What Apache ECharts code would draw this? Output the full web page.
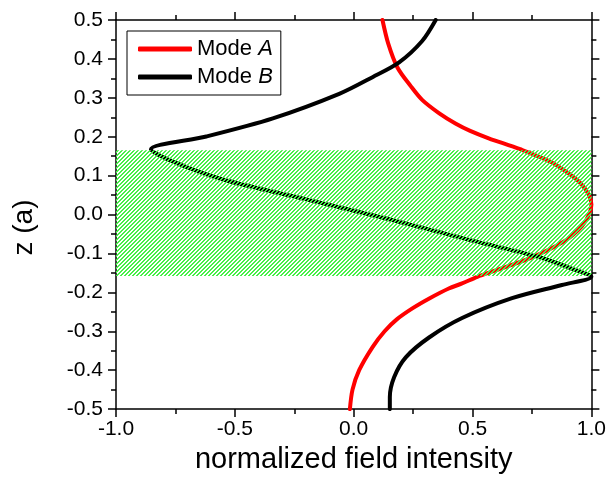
<!DOCTYPE html>
<html><head><meta charset="utf-8">
<script src="https://cdn.jsdelivr.net/npm/echarts@6/dist/echarts.min.js"></script>
<style>html,body{margin:0;padding:0;background:#fff}#c{width:609px;height:479px}</style>
</head><body><div id="c"></div><script>
// Mode A: z positions and normalized field intensity
const modeAZ = [-0.50,-0.45,-0.40,-0.34,-0.30,-0.27,-0.24,-0.215,-0.19,-0.177,-0.16,-0.143,-0.11,-0.067,-0.03,0.0,0.026,0.05,0.08,0.10,0.135,0.168,0.196,0.215,0.234,0.26,0.294,0.33,0.378,0.44,0.50];
const modeAX = [-0.016,-0.005,0.023,0.08,0.13,0.18,0.25,0.32,0.40,0.456,0.52,0.60,0.75,0.89,0.96,0.99,1.0,0.99,0.955,0.917,0.83,0.70,0.568,0.49,0.428,0.36,0.289,0.24,0.184,0.145,0.121];
// Mode B
const modeBZ = [-0.50,-0.469,-0.418,-0.367,-0.316,-0.266,-0.215,-0.181,-0.16,-0.139,-0.109,-0.067,-0.012,0.039,0.09,0.136,0.168,0.2005,0.247,0.31,0.353,0.391,0.446,0.50];
const modeBX = [0.152,0.152,0.170,0.219,0.317,0.456,0.666,0.876,1.0,0.917,0.778,0.498,0.149,-0.200,-0.55,-0.76,-0.853,-0.62,-0.34,-0.061,0.079,0.191,0.288,0.345];
// hatched slab region (z range)
const slabRange = [-0.158, 0.165];
const xRange = [-1.0, 1.0];
const zRange = [-0.5, 0.5];

const tile = document.createElement('canvas');
tile.width = 4; tile.height = 4;
const g = tile.getContext('2d');
g.fillStyle = '#48f048';
for (let y = 0; y < 4; y++) {
  g.fillRect((3 - y + 4) % 4, y, 1, 1);
  g.fillRect((4 - y) % 4, y, 1, 1);
}

const fmt = v => (Math.abs(v) < 1e-9 ? 0 : v).toFixed(1);
const font = 'Liberation Sans, Arial, sans-serif';
const axisBase = {
  axisLine: {show: true, onZero: false, lineStyle: {color: '#000', width: 1.5}},
  axisTick: {show: true, inside: false, length: 8, lineStyle: {color: '#000', width: 1.5}},
  minorTick: {show: true, splitNumber: 2, length: 5, lineStyle: {color: '#000', width: 1.5}},
  splitLine: {show: false}, minorSplitLine: {show: false}
};

const chart = echarts.init(document.getElementById('c'));
chart.setOption({
  animation: false,
  backgroundColor: '#fff',
  grid: {left: 116, right: 16, top: 20, bottom: 65},
  legend: {
    left: 127, top: 31, orient: 'vertical',
    data: ['Mode A', 'Mode B'],
    itemWidth: 54, itemHeight: 5, itemGap: 6, icon: 'roundRect',
    padding: [7, 8, 7, 11],
    borderColor: '#000', borderWidth: 1,
    formatter: n => 'Mode {i|' + n.slice(5) + '}',
    textStyle: {fontFamily: font, fontSize: 22, color: '#000',
      rich: {i: {fontFamily: font, fontSize: 22, fontStyle: 'italic', color: '#000'}}}
  },
  xAxis: [
    Object.assign({}, axisBase, {type: 'value', min: xRange[0], max: xRange[1], interval: 0.5, position: 'bottom',
      name: 'normalized field intensity', nameLocation: 'middle', nameGap: 35,
      nameTextStyle: {fontFamily: font, fontSize: 29, color: '#000'},
      axisLabel: {formatter: fmt, fontFamily: font, fontSize: 21, color: '#000', margin: 10}}),
    Object.assign({}, axisBase, {type: 'value', min: xRange[0], max: xRange[1], interval: 0.5, position: 'top',
      axisLabel: {show: false}})
  ],
  yAxis: [
    Object.assign({}, axisBase, {type: 'value', min: zRange[0], max: zRange[1], interval: 0.1, position: 'left',
      name: 'z (a)', nameLocation: 'middle', nameGap: 78,
      nameTextStyle: {fontFamily: font, fontSize: 28, color: '#000', padding: [0, 26, 0, 0]},
      axisLabel: {formatter: fmt, fontFamily: font, fontSize: 21, color: '#000', margin: 13}}),
    Object.assign({}, axisBase, {type: 'value', min: zRange[0], max: zRange[1], interval: 0.1, position: 'right',
      axisLabel: {show: false}})
  ],
  series: [
    {name: 'Mode A', type: 'line', symbol: 'none', smooth: 0.3, z: 3,
     data: modeAZ.map((z, i) => [modeAX[i], z]),
     itemStyle: {color: '#ff0000'},
     lineStyle: {color: '#ff0000', width: 4, cap: 'round', join: 'round'}},
    {name: 'Mode B', type: 'line', symbol: 'none', smooth: 0.3, z: 3,
     data: modeBZ.map((z, i) => [modeBX[i], z]),
     itemStyle: {color: '#000'},
     lineStyle: {color: '#000', width: 4, cap: 'round', join: 'round'}},
    {name: 'slab', type: 'custom', z: 5, silent: true,
     data: [[slabRange[0], slabRange[1]]],
     renderItem: (params, api) => {
       const p1 = api.coord([xRange[0], api.value(1)]);
       const p2 = api.coord([xRange[1], api.value(0)]);
       return {type: 'rect', shape: {x: p1[0], y: p1[1], width: p2[0] - p1[0], height: p2[1] - p1[1]},
         style: {fill: {image: tile, repeat: 'repeat'}}};
     }}
  ]
});
</script></body></html>
